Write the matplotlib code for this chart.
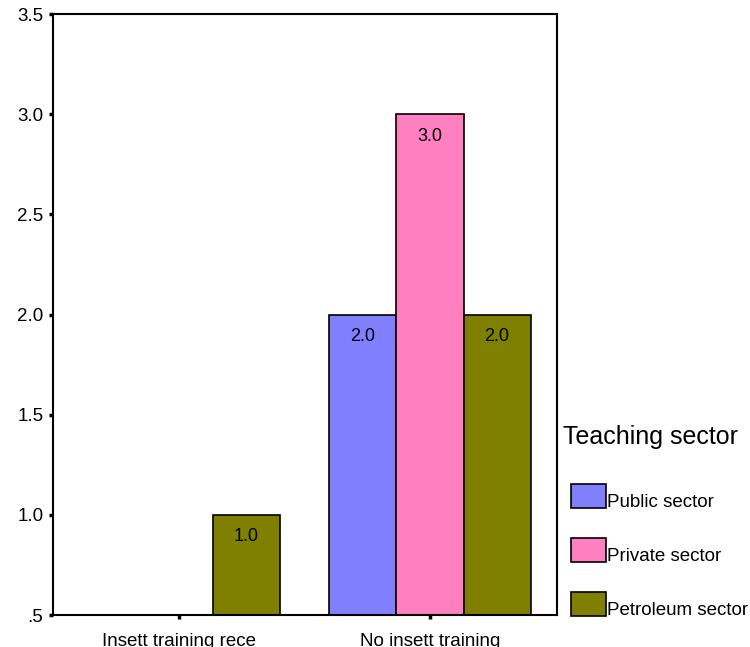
import numpy as np
import matplotlib
matplotlib.use("Agg")
import matplotlib.pyplot as plt
from matplotlib.patches import Rectangle

plt.rcParams['font.family'] = ['Liberation Sans', 'DejaVu Sans']

# Data
categories = ['Insett training rece', 'No insett training']
sectors = ['Public sector', 'Private sector', 'Petroleum sector']
public_counts = [0, 2]
private_counts = [0, 3]
petroleum_counts = [1, 2]
y_ticks = [0.5, 1.0, 1.5, 2.0, 2.5, 3.0, 3.5]
y_tick_labels = ['.5', '1.0', '1.5', '2.0', '2.5', '3.0', '3.5']

colors = ['#8080FF', '#FF80C0', '#808000']

W, H = 750, 647
fig = plt.figure(figsize=(W / 100, H / 100), dpi=100)
ax = fig.add_axes([53 / W, 1 - 615 / H, (557 - 53) / W, (615 - 14) / H])

x = np.arange(len(categories))
width = 0.267
series = [public_counts, private_counts, petroleum_counts]
for i, (vals, col, name) in enumerate(zip(series, colors, sectors)):
    bars = ax.bar(x + (i - 1) * width, vals, width, color=col,
                  edgecolor='black', linewidth=1.2, label=name)
    labels = [f'{v:.1f}' if v > 0 else '' for v in vals]
    ax.bar_label(bars, labels=labels, padding=-22, fontsize=13)

ax.set_xlim(-0.502, 1.506)
ax.set_ylim(0.5, 3.5)
ax.set_yticks(y_ticks)
ax.set_yticklabels(y_tick_labels)
ax.set_xticks(x)
ax.set_xticklabels(categories)

for sp in ax.spines.values():
    sp.set_linewidth(1.5)
    sp.set_color('black')
ax.tick_params(axis='both', direction='out', length=3, width=2.5,
               labelsize=13.5, color='black')
ax.tick_params(axis='y', pad=4)
ax.tick_params(axis='x', pad=10)

# Legend, drawn by hand to match the SPSS layout
fig.text(563 / W, 1 - 437 / H, 'Teaching sector', fontsize=18,
         va='center', ha='left')
for i, (name, col) in enumerate(zip(sectors, colors)):
    top = 484 + 54 * i
    fig.add_artist(Rectangle((571 / W, 1 - (top + 24) / H), 35 / W, 24 / H,
                             transform=fig.transFigure, facecolor=col,
                             edgecolor='black', linewidth=1.2))
    fig.text(607 / W, 1 - (top + 23) / H, name, fontsize=13.5,
             va='baseline', ha='left')

fig.savefig('out.png', dpi=100)
